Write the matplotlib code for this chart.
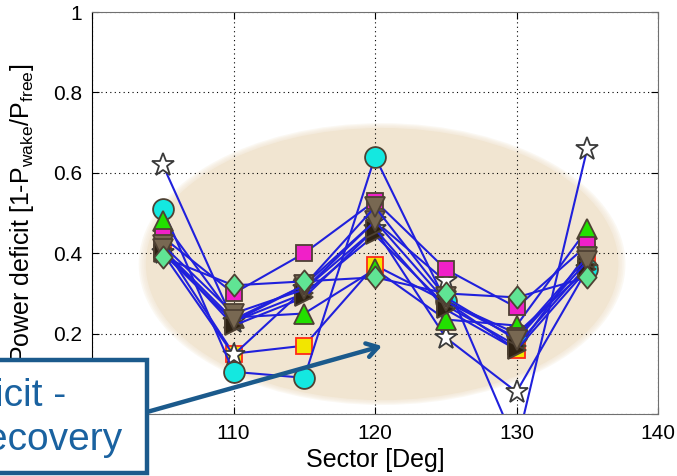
import matplotlib
matplotlib.use("Agg")
import numpy as np
import matplotlib.pyplot as plt
from matplotlib.patches import Ellipse, Rectangle
from matplotlib.path import Path

plt.rcParams["font.family"] = ["Liberation Sans", "DejaVu Sans"]
plt.rcParams["mathtext.fontset"] = "custom"
plt.rcParams["mathtext.rm"] = "Liberation Sans"
plt.rcParams["mathtext.it"] = "Liberation Sans"

# wind sectors [deg]
sectors = [105, 110, 115, 120, 125, 130, 135]

# power deficit per turbine row, one list per series
star_a    = [0.62, 0.23, 0.32, 0.48, 0.33, -0.08, 0.66]
yellow_sq = [0.42, 0.15, 0.17, 0.37, 0.28, 0.16, 0.40]
star_b    = [0.40, 0.147, 0.31, 0.46, 0.19, 0.055, 0.36]
circle    = [0.51, 0.105, 0.09, 0.64, 0.28, 0.20, 0.36]
green_tri = [0.48, 0.24, 0.25, 0.36, 0.235, 0.22, 0.46]
magenta   = [0.44, 0.30, 0.40, 0.53, 0.36, 0.265, 0.42]
rtri_a    = [0.40, 0.23, 0.30, 0.445, 0.27, 0.17, 0.37]
rtri_b    = [0.41, 0.22, 0.29, 0.46, 0.26, 0.16, 0.36]
dtri_a    = [0.42, 0.25, 0.31, 0.48, 0.28, 0.19, 0.39]
dtri_b    = [0.41, 0.235, 0.32, 0.515, 0.29, 0.185, 0.38]
diamond   = [0.39, 0.32, 0.33, 0.34, 0.30, 0.29, 0.34]

x_ticks = [100, 110, 120, 130, 140]
x_ticklabels = ["", "110", "120", "130", "140"]
y_ticks = [0, 0.2, 0.4, 0.6, 0.8, 1]
y_ticklabels = ["", "0.2", "0.4", "0.6", "0.8", "1"]

W, H = 677, 476
fig = plt.figure(figsize=(W / 100, H / 100), dpi=100)
ax = fig.add_axes([92 / W, 1 - 414 / H, (658 - 92) / W, (414 - 12) / H])


def fpos(x, y):
    # pixel position -> figure fraction
    return (x / W, 1 - y / H)


# soft beige highlight behind the data
for k in range(4, 0, -1):
    ax.add_patch(Ellipse((120.5, 0.373), 33.4 + k * 0.25, 0.677 + k * 0.006,
                         facecolor="#f1e4cf", edgecolor="none",
                         alpha=0.25, zorder=0.2))
ax.add_patch(Ellipse((120.5, 0.373), 33.4, 0.677, facecolor="#f1e5d1",
                     edgecolor="none", zorder=0.3))

line_color = "#2020dc"
edge = "#4e4133"
tall_diamond = Path([(0, 1), (0.82, 0), (0, -1), (-0.82, 0), (0, 1)],
                    [Path.MOVETO, Path.LINETO, Path.LINETO, Path.LINETO, Path.CLOSEPOLY])

series = [
    (star_a,    "*", 17, "white",   "#3a3a3a"),
    (yellow_sq, "s", 12, "#f2e600", "#ff2a1a"),
    (star_b,    "*", 17, "white",   "#3a3a3a"),
    (circle,    "o", 15, "#14e8e0", edge),
    (green_tri, "^", 14, "#22e000", edge),
    (magenta,   "s", 12, "#f020c8", edge),
    (rtri_a,    ">", 13, "#2e2214", edge),
    (rtri_b,    ">", 13, "#2e2214", edge),
    (dtri_a,    "v", 15, "#786852", edge),
    (dtri_b,    "v", 15, "#786852", edge),
    (diamond,   tall_diamond, 16, "#60e494", edge),
]

for vals, mk, ms, fc, ec in series:
    ax.plot(sectors, vals, color=line_color, lw=1.5, marker=mk, ms=ms,
            markerfacecolor=fc, markeredgecolor=ec, markeredgewidth=1.3,
            zorder=3)

ax.set_xlim(100, 140)
ax.set_ylim(0, 1)
ax.set_xticks(x_ticks)
ax.set_xticklabels(x_ticklabels)
ax.set_yticks(y_ticks)
ax.set_yticklabels(y_ticklabels)
ax.tick_params(direction="in", top=True, right=True, length=5, labelsize=15,
               pad=7, colors="black")
ax.set_axisbelow(True)
ax.grid(True, color="black", linestyle=(0, (1, 3)), linewidth=0.8)
ax.spines["left"].set_color("black")
for s in ["top", "right", "bottom"]:
    ax.spines[s].set_color("#707070")

ax.set_xlabel("Sector [Deg]", fontsize=18, labelpad=4)
ax.set_ylabel(r"Power deficit [1-P$_{\mathrm{wake}}$/P$_{\mathrm{free}}$]",
              fontsize=18, labelpad=12)

# callout box and arrow
box_color = "#1b5a8c"
x0, y0 = fpos(-20, 473)
x1, y1 = fpos(147, 360)
fig.add_artist(Rectangle((x0, y0), x1 - x0, y1 - y0, transform=fig.transFigure,
                         facecolor="white", edgecolor=box_color, linewidth=3.2,
                         zorder=10))
fig.text(*fpos(66, 406), "deficit -", ha="right", va="baseline",
         fontsize=28, color="#1a62a0", zorder=11)
fig.text(*fpos(123, 450), "recovery", ha="right", va="baseline",
         fontsize=28, color="#1a62a0", zorder=11)

fig.add_artist(plt.Annotation("", xy=fpos(382, 346), xytext=fpos(147, 412),
                              xycoords="figure fraction",
                              textcoords="figure fraction",
                              arrowprops=dict(arrowstyle="->,head_length=0.8,head_width=0.5",
                                              color=box_color, lw=3.2,
                                              shrinkA=0, shrinkB=0),
                              zorder=9))

fig.savefig("out.png", dpi=100)
